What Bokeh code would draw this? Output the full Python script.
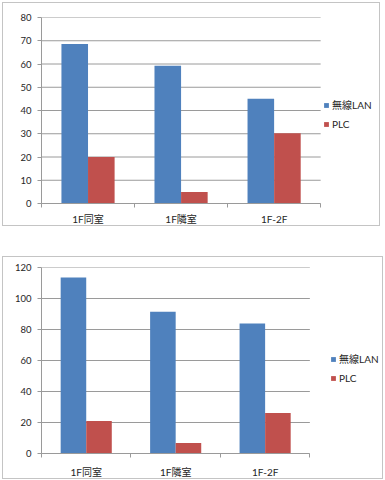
from bokeh.plotting import figure
from bokeh.models import Range1d, FixedTicker, Legend, LegendItem
from bokeh.layouts import column
from bokeh.embed import file_html
from bokeh.resources import INLINE

categories = ["1F同室", "1F隣室", "1F-2F"]
series_names = ["無線LAN", "PLC"]
series_colors = ["#4F81BD", "#C0504D"]

chart1_wlan = [68.6, 59.3, 45.1]
chart1_plc = [20.0, 5.0, 30.2]
chart1_yticks = [0, 10, 20, 30, 40, 50, 60, 70, 80]

chart2_wlan = [113.5, 91.4, 83.9]
chart2_plc = [21.0, 6.8, 26.2]
chart2_yticks = [0, 20, 40, 60, 80, 100, 120]

FONT = "Lato, 'Noto Sans CJK JP', sans-serif"
GRID = "#9a9a9a"
TEXT = "#262626"


def make_chart(wlan, plc, yticks, width, height, left, top, bottom, plot_w,
               legend_xy, x_standoff):
    n = len(categories)
    centers = [i + 0.5 for i in range(n)]
    bw = 1 / 3.5
    frame_w = (width - 2) - left
    x_end = n * frame_w / plot_w
    p = figure(width=width, height=height,
               x_range=Range1d(0, x_end), y_range=Range1d(yticks[0], yticks[-1]),
               output_backend="svg", toolbar_location=None,
               min_border_left=left, min_border_right=0,
               min_border_top=top, min_border_bottom=bottom,
               styles={"border": "1px solid #c4c4c4"})
    p.outline_line_color = None
    p.background_fill_color = "white"
    p.border_fill_color = "white"

    p.xgrid.grid_line_color = None
    p.ygrid.grid_line_color = None
    p.segment(x0=[0] * len(yticks), x1=[n] * len(yticks), y0=yticks, y1=yticks,
              line_color=GRID, line_width=1)

    r1 = p.vbar(x=[c - bw / 2 for c in centers], top=wlan, width=bw,
                fill_color=series_colors[0], line_color=None)
    r2 = p.vbar(x=[c + bw / 2 for c in centers], top=plc, width=bw,
                fill_color=series_colors[1], line_color=None)

    xa = p.xaxis[0]
    xa.bounds = (0, n)
    xa.ticker = FixedTicker(ticks=centers, minor_ticks=[float(i) for i in range(n + 1)])
    xa.major_label_overrides = {c: lab for c, lab in zip(centers, categories)}
    xa.major_tick_line_color = None
    xa.major_tick_in = 0
    xa.major_tick_out = 0
    xa.minor_tick_in = 0
    xa.minor_tick_out = 4
    xa.minor_tick_line_color = GRID
    xa.axis_line_color = GRID
    xa.major_label_standoff = x_standoff
    xa.major_label_text_font = FONT
    xa.major_label_text_font_size = "10px"
    xa.major_label_text_color = TEXT

    ya = p.yaxis[0]
    ya.ticker = FixedTicker(ticks=yticks)
    ya.major_tick_in = 0
    ya.major_tick_out = 4
    ya.major_tick_line_color = GRID
    ya.minor_tick_line_color = None
    ya.axis_line_color = GRID
    ya.major_label_standoff = 6
    ya.major_label_text_font = FONT
    ya.major_label_text_font_size = "9.5px"
    ya.major_label_text_color = TEXT

    legend = Legend(items=[LegendItem(label=series_names[0], renderers=[r1]),
                           LegendItem(label=series_names[1], renderers=[r2])],
                    location=legend_xy, orientation="vertical",
                    glyph_width=6, glyph_height=6, label_standoff=3,
                    label_height=19, label_width=10, spacing=0, padding=0, margin=0,
                    border_line_color=None, background_fill_alpha=0,
                    label_text_font=FONT, label_text_font_size="10px",
                    label_text_color=TEXT)
    p.add_layout(legend, "center")
    return p


p1 = make_chart(chart1_wlan, chart1_plc, chart1_yticks, 378, 224,
                38, 14, 22, 277.5, (282, 70), 5)
p2 = make_chart(chart2_wlan, chart2_plc, chart2_yticks, 381, 223,
                33, 10, 25, 270.7, (289, 66), 8)

layout = column(p1, p2, spacing=30,
                styles={"margin-left": "2px", "margin-top": "2px"})

with open("out.html", "w") as f:
    f.write(file_html(layout, INLINE))
